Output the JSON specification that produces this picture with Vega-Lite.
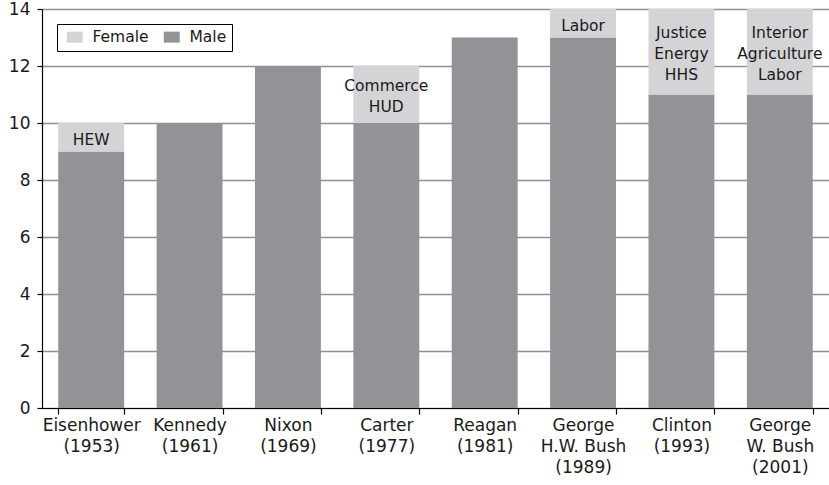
{
  "$schema": "https://vega.github.io/schema/vega-lite/v6.json",
  "width": 787,
  "height": 399,
  "autosize": "none",
  "padding": {"left": 42, "top": 9, "right": 0, "bottom": 77},
  "background": "white",
  "config": {
    "font": "DejaVu Sans",
    "view": {"stroke": null}
  },
  "data": {
    "values": [
      {"president": "Eisenhower|(1953)", "Male": 9, "Female": 1, "label": "HEW"},
      {"president": "Kennedy|(1961)", "Male": 10, "Female": 0, "label": ""},
      {"president": "Nixon|(1969)", "Male": 12, "Female": 0, "label": ""},
      {"president": "Carter|(1977)", "Male": 10, "Female": 2, "label": "Commerce|HUD"},
      {"president": "Reagan|(1981)", "Male": 13, "Female": 0, "label": ""},
      {"president": "George|H.W. Bush|(1989)", "Male": 13, "Female": 1, "label": "Labor"},
      {"president": "Clinton|(1993)", "Male": 11, "Female": 3, "label": "Justice|Energy|HHS"},
      {"president": "George|W. Bush|(2001)", "Male": 11, "Female": 3, "label": "Interior|Agriculture|Labor"}
    ]
  },
  "encoding": {
    "x": {
      "field": "president",
      "type": "nominal",
      "sort": null,
      "scale": {"paddingInner": 0.33, "paddingOuter": 0.165},
      "axis": {
        "title": null,
        "labelAngle": 0,
        "labelExpr": "split(datum.label, '|')",
        "labelFont": "DejaVu Sans",
        "labelFontSize": 17,
        "labelColor": "#1a1a1a",
        "labelLineHeight": 21,
        "labelBaseline": "top",
        "labelPadding": 3,
        "tickBand": "extent",
        "tickSize": 6,
        "tickColor": "#000000",
        "domainColor": "#000000",
        "domainWidth": 1.2,
        "tickWidth": 1.2,
        "grid": false
      }
    }
  },
  "layer": [
    {
      "transform": [{"fold": ["Male", "Female"], "as": ["gender", "n"]}],
      "mark": {"type": "bar"},
      "encoding": {
        "y": {
          "aggregate": "sum",
          "field": "n",
          "type": "quantitative",
          "stack": "zero",
          "scale": {"domain": [0, 14], "nice": false},
          "axis": {
            "title": null,
            "values": [0, 2, 4, 6, 8, 10, 12, 14],
            "grid": true,
            "gridColor": "#909093",
            "gridWidth": 1.6,
            "domainColor": "#000000",
            "domainWidth": 1.2,
            "tickColor": "#000000",
            "tickWidth": 1.2,
            "tickSize": 5,
            "labelPadding": 7,
            "labelFont": "DejaVu Sans",
            "labelFontSize": 17,
            "labelColor": "#1a1a1a"
          }
        },
        "color": {
          "field": "gender",
          "type": "nominal",
          "scale": {"domain": ["Female", "Male"], "range": ["#d4d4d6", "#929396"]},
          "legend": {
            "title": null,
            "orient": "none",
            "legendX": 15,
            "legendY": 15,
            "direction": "horizontal",
            "strokeColor": "#000000",
            "padding": 5,
            "symbolOffset": 5,
            "symbolType": "M-1.45,-1H1.45V1H-1.45Z",
            "symbolSize": 121,
            "symbolStrokeWidth": 0,
            "labelFont": "DejaVu Sans",
            "labelFontSize": 15.5,
            "labelColor": "#1a1a1a",
            "labelOffset": 10,
            "columnPadding": 10,
            "fillColor": "white"
          }
        },
        "order": {"field": "gender", "sort": "descending"}
      }
    },
    {
      "transform": [
        {"filter": "datum.Female > 0"},
        {"calculate": "split(datum.label, '|')", "as": "lines"},
        {"calculate": "datum.Male + datum.Female / 2 + (length(datum.lines) - 1) * 0.368 - 0.08", "as": "ypos"}
      ],
      "mark": {"type": "text", "baseline": "middle", "align": "center", "font": "DejaVu Sans", "fontSize": 15.5, "lineHeight": 21, "color": "#1a1a1a"},
      "encoding": {
        "y": {"field": "ypos", "type": "quantitative"},
        "text": {"field": "lines"}
      }
    }
  ]
}
